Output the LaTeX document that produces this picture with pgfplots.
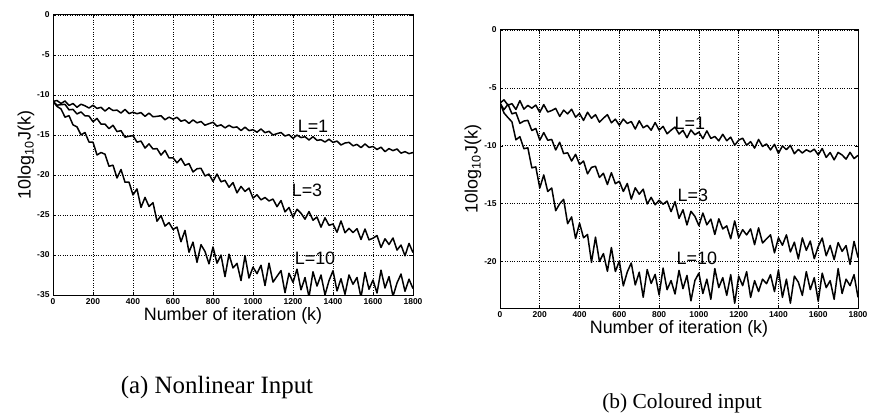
\documentclass[border=0pt]{standalone}
\usepackage{fontspec}
\setmainfont{Liberation Serif}
\setsansfont{Liberation Sans}
\usepackage{pgfplots}
\pgfplotsset{compat=1.18}
\pgfplotsset{
  curve/.style={black, line width=1.5pt, no marks, line join=round},
  mlab/.style={
    scale only axis,
    xmin=0, xmax=1800,
    xtick={0,200,...,1800},
    grid=major,
    grid style={dotted, black, line width=0.7pt},
    axis line style={line width=1pt},
    tick align=inside,
    major tick length=3bp,
    tick style={black, line width=0.6pt},
    /pgf/number format/assume math mode=true,
    /pgf/number format/1000 sep={},
    scaled ticks=false,
    ticklabel style={font=\fontsize{8.5}{9}\selectfont\sffamily\bfseries},
    xlabel={Number of iteration (k)},
    ylabel={10log\textsubscript{10}J(k)},
    label style={font=\fontsize{18}{20}\selectfont\sffamily},
    xlabel style={yshift=4bp},
    ylabel style={yshift=-4bp},
  }
}
\begin{document}
\begin{tikzpicture}[x=1bp,y=1bp]
\useasboundingbox (0,0) rectangle (870,418);
% ---------------- panel (a)
\begin{axis}[mlab, at={(53bp,123bp)}, anchor=south west, width=360bp, height=280bp,
  ymin=-35, ymax=0, ytick={-35,-30,...,0}]
\addplot[curve] coordinates {(0,-10.80) (20,-10.69) (40,-11.06) (60,-10.75) (80,-11.30) (100,-11.07) (120,-11.53) (140,-11.15) (160,-11.35) (180,-11.63) (200,-11.28) (220,-11.68) (240,-11.54) (260,-12.01) (280,-11.60) (300,-11.94) (320,-11.89) (340,-12.26) (360,-11.80) (380,-12.32) (400,-12.15) (420,-12.34) (440,-12.20) (460,-12.67) (480,-12.26) (500,-12.72) (520,-12.67) (540,-12.59) (560,-13.09) (580,-12.77) (600,-13.02) (620,-12.79) (640,-13.28) (660,-13.12) (680,-13.55) (700,-13.11) (720,-13.48) (740,-13.31) (760,-13.78) (780,-13.58) (800,-13.41) (820,-13.90) (840,-13.73) (860,-14.11) (880,-13.79) (900,-14.07) (920,-13.99) (940,-14.45) (960,-14.02) (980,-14.45) (1000,-14.34) (1020,-14.65) (1040,-14.24) (1060,-14.71) (1080,-14.54) (1100,-15.00) (1120,-14.83) (1140,-14.69) (1160,-15.13) (1180,-14.96) (1200,-15.42) (1220,-15.01) (1240,-15.32) (1260,-15.22) (1280,-15.62) (1300,-15.21) (1320,-15.67) (1340,-15.59) (1360,-15.88) (1380,-15.53) (1400,-15.93) (1420,-15.76) (1440,-16.25) (1460,-16.00) (1480,-15.92) (1500,-16.35) (1520,-16.18) (1540,-16.58) (1560,-16.12) (1580,-16.55) (1600,-16.44) (1620,-16.81) (1640,-16.52) (1660,-17.08) (1680,-16.70) (1700,-16.95) (1720,-16.75) (1740,-17.27) (1760,-17.08) (1780,-17.33) (1800,-17.19)};
\addplot[curve] coordinates {(0,-10.80) (20,-11.27) (40,-11.21) (60,-11.17) (80,-11.85) (100,-11.80) (120,-12.37) (140,-12.12) (160,-12.60) (180,-12.63) (200,-13.34) (220,-12.93) (240,-13.64) (260,-13.64) (280,-14.21) (300,-13.78) (320,-14.57) (340,-14.46) (360,-15.27) (380,-15.16) (400,-15.08) (420,-15.89) (440,-15.76) (460,-16.63) (480,-16.11) (500,-16.75) (520,-16.70) (540,-17.51) (560,-16.93) (580,-17.86) (600,-17.85) (620,-18.47) (640,-17.93) (660,-18.79) (680,-18.57) (700,-19.62) (720,-19.22) (740,-19.16) (760,-20.12) (780,-19.88) (800,-20.80) (820,-19.88) (840,-20.85) (860,-20.67) (880,-21.53) (900,-20.95) (920,-22.23) (940,-21.43) (960,-22.05) (980,-21.64) (1000,-22.89) (1020,-22.47) (1040,-23.11) (1060,-22.81) (1080,-23.24) (1100,-23.01) (1120,-23.96) (1140,-23.19) (1160,-24.61) (1180,-24.06) (1200,-25.28) (1220,-24.28) (1240,-24.78) (1260,-25.52) (1280,-24.57) (1300,-25.65) (1320,-25.25) (1340,-26.52) (1360,-25.35) (1380,-26.29) (1400,-26.13) (1420,-27.16) (1440,-25.74) (1460,-27.22) (1480,-26.67) (1500,-27.19) (1520,-26.71) (1540,-28.06) (1560,-26.75) (1580,-28.11) (1600,-27.90) (1620,-27.57) (1640,-29.06) (1660,-27.97) (1680,-28.69) (1700,-27.87) (1720,-29.39) (1740,-28.75) (1760,-30.10) (1780,-28.55) (1800,-29.70)};
\addplot[curve] coordinates {(0,-10.80) (20,-11.43) (40,-11.74) (60,-12.77) (80,-12.58) (100,-13.73) (120,-13.99) (140,-14.98) (160,-14.69) (180,-15.88) (200,-15.90) (220,-17.50) (240,-17.19) (260,-17.40) (280,-18.91) (300,-18.77) (320,-20.37) (340,-19.31) (360,-20.90) (380,-20.89) (400,-22.50) (420,-21.74) (440,-24.05) (460,-22.80) (480,-23.93) (500,-23.46) (520,-25.78) (540,-25.08) (560,-26.39) (580,-25.95) (600,-26.80) (620,-26.51) (640,-28.34) (660,-26.92) (680,-29.65) (700,-28.39) (720,-30.91) (740,-28.71) (760,-29.56) (780,-31.11) (800,-29.00) (820,-31.02) (840,-30.01) (860,-32.70) (880,-29.90) (900,-31.62) (920,-31.05) (940,-33.19) (960,-30.08) (980,-32.88) (1000,-31.52) (1020,-32.33) (1040,-31.28) (1060,-33.81) (1080,-31.02) (1100,-33.39) (1120,-32.66) (1140,-31.95) (1160,-34.71) (1180,-32.28) (1200,-33.42) (1220,-31.77) (1240,-34.35) (1260,-32.82) (1280,-35.26) (1300,-32.10) (1320,-33.88) (1340,-32.50) (1360,-34.99) (1380,-33.21) (1400,-31.96) (1420,-34.49) (1440,-32.97) (1460,-34.91) (1480,-32.49) (1500,-33.66) (1520,-32.81) (1540,-35.32) (1560,-32.17) (1580,-34.28) (1600,-33.13) (1620,-34.75) (1640,-31.90) (1660,-34.12) (1680,-32.70) (1700,-35.16) (1720,-33.50) (1740,-32.38) (1760,-34.54) (1780,-33.02) (1800,-34.20)};
\node[font=\fontsize{18}{20}\selectfont\sffamily] at (axis cs:1300,-13.9) {L=1};
\node[font=\fontsize{18}{20}\selectfont\sffamily] at (axis cs:1270,-21.9) {L=3};
\node[font=\fontsize{18}{20}\selectfont\sffamily] at (axis cs:1310,-30.4) {L=10};
\end{axis}
% ---------------- panel (b)
\begin{axis}[mlab, at={(500bp,110bp)}, anchor=south west, width=358bp, height=278bp,
  ymin=-24, ymax=0, ytick={-20,-15,...,0}]
\addplot[curve] coordinates {(0,-6.30) (20,-6.03) (40,-6.49) (60,-6.36) (80,-6.86) (100,-6.10) (120,-6.83) (140,-6.51) (160,-6.75) (180,-6.48) (200,-7.12) (220,-6.44) (240,-7.08) (260,-6.95) (280,-6.77) (300,-7.46) (320,-6.92) (340,-7.24) (360,-6.84) (380,-7.52) (400,-7.21) (420,-7.81) (440,-7.10) (460,-7.62) (480,-7.31) (500,-7.96) (520,-7.61) (540,-7.31) (560,-8.01) (580,-7.70) (600,-8.22) (620,-7.69) (640,-8.07) (660,-7.90) (680,-8.55) (700,-7.84) (720,-8.44) (740,-8.23) (760,-8.65) (780,-7.99) (800,-8.64) (820,-8.32) (840,-8.96) (860,-8.65) (880,-8.38) (900,-8.98) (920,-8.66) (940,-9.30) (960,-8.63) (980,-9.04) (1000,-8.82) (1020,-9.38) (1040,-8.71) (1060,-9.36) (1080,-9.19) (1100,-9.57) (1120,-9.00) (1140,-9.56) (1160,-9.25) (1180,-9.95) (1200,-9.51) (1220,-9.34) (1240,-9.95) (1260,-9.64) (1280,-10.20) (1300,-9.45) (1320,-10.05) (1340,-9.84) (1360,-10.35) (1380,-9.87) (1400,-10.65) (1420,-10.01) (1440,-10.33) (1460,-9.96) (1480,-10.68) (1500,-10.31) (1520,-10.62) (1540,-10.34) (1560,-10.52) (1580,-10.29) (1600,-10.78) (1620,-10.23) (1640,-11.00) (1660,-10.58) (1680,-11.21) (1700,-10.57) (1720,-10.79) (1740,-11.15) (1760,-10.56) (1780,-11.10) (1800,-10.82)};
\addplot[curve] coordinates {(0,-6.30) (20,-6.88) (40,-6.41) (60,-7.24) (80,-7.13) (100,-8.06) (120,-7.86) (140,-7.80) (160,-8.68) (180,-8.50) (200,-9.51) (220,-8.86) (240,-9.52) (260,-9.45) (280,-10.36) (300,-9.69) (320,-10.67) (340,-10.60) (360,-11.31) (380,-10.73) (400,-11.61) (420,-11.31) (440,-12.42) (460,-11.86) (480,-11.76) (500,-12.73) (520,-12.37) (540,-13.34) (560,-12.32) (580,-13.27) (600,-13.06) (620,-13.94) (640,-13.25) (660,-14.60) (680,-13.62) (700,-14.18) (720,-13.74) (740,-15.02) (760,-14.45) (780,-15.09) (800,-14.70) (820,-15.04) (840,-14.77) (860,-15.68) (880,-14.82) (900,-16.26) (920,-15.52) (940,-16.83) (960,-15.65) (980,-16.09) (1000,-16.89) (1020,-15.80) (1040,-16.82) (1060,-16.32) (1080,-17.65) (1100,-16.30) (1120,-17.17) (1140,-16.91) (1160,-18.02) (1180,-16.48) (1200,-17.93) (1220,-17.24) (1240,-17.69) (1260,-17.17) (1280,-18.53) (1300,-17.08) (1320,-18.39) (1340,-18.03) (1360,-17.68) (1380,-19.24) (1400,-17.94) (1420,-18.58) (1440,-17.68) (1460,-19.16) (1480,-18.32) (1500,-19.76) (1520,-17.95) (1540,-19.02) (1560,-18.22) (1580,-19.74) (1600,-18.70) (1620,-17.96) (1640,-19.49) (1660,-18.60) (1680,-19.82) (1700,-18.35) (1720,-19.11) (1740,-18.61) (1760,-20.23) (1780,-18.25) (1800,-19.64)};
\addplot[curve] coordinates {(0,-6.30) (20,-7.16) (40,-7.56) (60,-7.93) (80,-9.48) (100,-9.21) (120,-10.25) (140,-10.17) (160,-11.90) (180,-11.82) (200,-13.64) (220,-12.51) (240,-13.94) (260,-13.64) (280,-15.60) (300,-15.00) (320,-14.62) (340,-16.72) (360,-16.14) (380,-18.00) (400,-16.68) (420,-17.94) (440,-17.65) (460,-20.06) (480,-17.88) (500,-19.98) (520,-19.30) (540,-20.83) (560,-18.78) (580,-20.85) (600,-19.95) (620,-22.09) (640,-20.88) (660,-20.11) (680,-22.01) (700,-20.91) (720,-23.07) (740,-20.68) (760,-21.88) (780,-21.10) (800,-22.88) (820,-20.55) (840,-22.42) (860,-21.63) (880,-22.79) (900,-20.76) (920,-22.33) (940,-21.19) (960,-23.38) (980,-21.62) (1000,-20.99) (1020,-22.75) (1040,-21.51) (1060,-23.25) (1080,-20.60) (1100,-22.24) (1120,-21.38) (1140,-22.91) (1160,-21.12) (1180,-23.59) (1200,-21.25) (1220,-22.07) (1240,-20.86) (1260,-23.08) (1280,-21.64) (1300,-22.58) (1320,-21.51) (1340,-21.90) (1360,-21.12) (1380,-22.58) (1400,-20.73) (1420,-23.08) (1440,-21.51) (1460,-23.59) (1480,-21.25) (1500,-21.77) (1520,-22.91) (1540,-20.86) (1560,-22.41) (1580,-21.38) (1600,-23.42) (1620,-20.99) (1640,-22.24) (1660,-21.64) (1680,-23.25) (1700,-20.60) (1720,-22.75) (1740,-21.51) (1760,-22.07) (1780,-21.12) (1800,-23.08)};
\node[font=\fontsize{18}{20}\selectfont\sffamily] at (axis cs:955,-8.05) {L=1};
\node[font=\fontsize{18}{20}\selectfont\sffamily] at (axis cs:970,-14.3) {L=3};
\node[font=\fontsize{18}{20}\selectfont\sffamily] at (axis cs:990,-19.7) {L=10};
\end{axis}
\node[font=\fontsize{25}{28}\selectfont\rmfamily] at (217,30) {(a) Nonlinear Input};
\node[font=\fontsize{21.5}{24}\selectfont\rmfamily] at (682,15) {(b) Coloured input};
\end{tikzpicture}
\end{document}
